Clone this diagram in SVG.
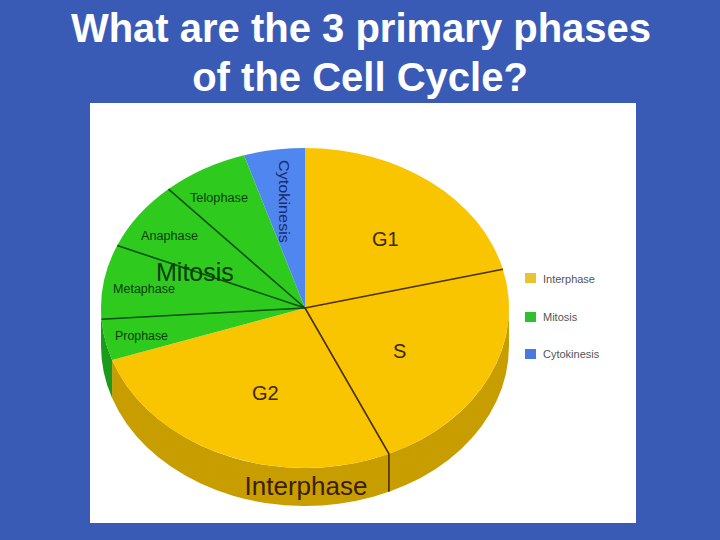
<svg xmlns="http://www.w3.org/2000/svg" width="720" height="540" viewBox="0 0 720 540">
<style>
.title{font-family:"Liberation Sans",Arial,sans-serif;font-weight:bold;font-size:40px;fill:#ffffff;text-anchor:middle}
.big{font-family:"Liberation Sans",Arial,sans-serif;font-size:20px;fill:#3a2a00}
.small{font-family:"Liberation Sans",Arial,sans-serif;font-size:12px;fill:#0a3c0a}
.leg{font-family:"Liberation Sans",Arial,sans-serif;font-size:11px;fill:#555555}
.yel{fill:#f9c400}
.grn{fill:#2ecb1e}
.blu{fill:#4f86ef}
.yside{fill:#c89d00}
.gside{fill:#1b9a1b}
.ydiv{stroke:#4a3000;stroke-width:1.6;fill:none}
.gdiv{stroke:#0a5010;stroke-width:1.6;fill:none}
</style>
<rect x="0" y="0" width="720" height="540" fill="#3a5bb5"/>
<text class="title" x="361" y="42">What are the 3 primary phases</text>
<text class="title" x="360" y="91">of the Cell Cycle?</text>
<rect x="90" y="103" width="546" height="420" fill="#ffffff"/>

<g id="pie-side">
<path class="yside" d="M509,308 A204,160 0 0 1 112.1,360.1 L112.1,398.1 A204,160 0 0 0 509,346 Z"/>
<path class="gside" d="M112.1,360.1 A204,160 0 0 1 101,308 L101,346 A204,160 0 0 0 112.1,398.1 Z"/>
</g>

<g id="g1"><path class="yel" d="M305,308 L305,148 A204,160 0 0 1 502.9,269.3 Z"/><text class="big" x="372" y="246">G1</text></g>
<g id="s"><path class="yel" d="M305,308 L502.9,269.3 A204,160 0 0 1 388.9,453.8 Z"/><text class="big" x="393" y="358">S</text></g>
<g id="g2"><path class="yel" d="M305,308 L388.9,453.8 A204,160 0 0 1 112.1,360.1 Z"/><text class="big" x="252" y="400">G2</text></g>
<g id="prophase"><path class="grn" d="M305,308 L112.1,360.1 A204,160 0 0 1 101.5,319.2 Z"/><text class="small" x="115" y="340" textLength="53" lengthAdjust="spacingAndGlyphs">Prophase</text></g>
<g id="metaphase"><path class="grn" d="M305,308 L101.5,319.2 A204,160 0 0 1 117.2,245.5 Z"/><text class="small" x="113" y="293" textLength="62" lengthAdjust="spacingAndGlyphs">Metaphase</text></g>
<g id="anaphase"><path class="grn" d="M305,308 L117.2,245.5 A204,160 0 0 1 168.5,189.1 Z"/><text class="small" x="141" y="240" textLength="57" lengthAdjust="spacingAndGlyphs">Anaphase</text></g>
<g id="telophase"><path class="grn" d="M305,308 L168.5,189.1 A204,160 0 0 1 244,155.3 Z"/><text class="small" x="190" y="202" textLength="58" lengthAdjust="spacingAndGlyphs">Telophase</text></g>
<g id="cytokinesis"><path class="blu" d="M305,308 L244,155.3 A204,160 0 0 1 305,148 Z"/><text class="small" transform="translate(279,160) rotate(90)" x="0" y="0" style="font-size:14px;fill:#1a2a6a" textLength="83" lengthAdjust="spacingAndGlyphs">Cytokinesis</text></g>

<g id="connectors">
<path class="ydiv" d="M305,308 L502.9,269.3"/>
<path class="ydiv" d="M305,308 L388.9,453.8 L388.9,491.8"/>
<path class="gdiv" d="M305,308 L101.5,319.2"/>
<path class="gdiv" d="M305,308 L117.2,245.5"/>
<path class="gdiv" d="M305,308 L168.5,189.1"/>
</g>

<g id="mitosis-label"><text x="156" y="281" style="font-family:'Liberation Sans',Arial,sans-serif;font-size:25px;fill:#0a3c0a">Mitosis</text></g>
<g id="interphase-label"><text x="306" y="495" text-anchor="middle" style="font-family:'Liberation Sans',Arial,sans-serif;font-size:26px;fill:#3a2000">Interphase</text></g>

<g id="legend">
<rect x="525" y="273" width="11" height="10" fill="#e8c430"/><text class="leg" x="543" y="283">Interphase</text>
<rect x="525" y="312" width="11" height="10" fill="#2ec02e"/><text class="leg" x="543" y="321">Mitosis</text>
<rect x="525" y="349" width="11" height="10" fill="#4a78e0"/><text class="leg" x="543" y="358">Cytokinesis</text>
</g>
</svg>
